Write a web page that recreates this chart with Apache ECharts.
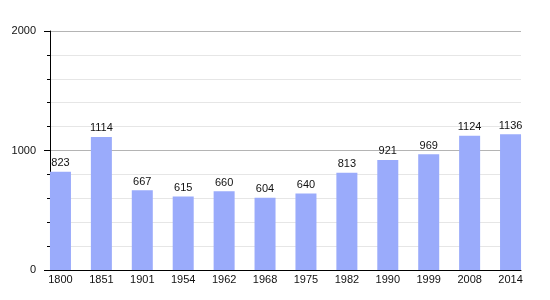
<!DOCTYPE html>
<html><head><meta charset="utf-8">
<script src="https://cdn.jsdelivr.net/npm/echarts@6/dist/echarts.min.js"></script>
<style>html,body{margin:0;padding:0;background:#fff}#c{width:550px;height:300px}</style>
</head><body><div id="c"></div>
<script>
const years = ['1800','1851','1901','1954','1962','1968','1975','1982','1990','1999','2008','2014'];
const population = [823,1114,667,615,660,604,640,813,921,969,1124,1136];
const yTicks = [0,1000,2000];

const chart = echarts.init(document.getElementById('c'));
const font = 'Liberation Sans, Arial, sans-serif';
chart.setOption({
  animation:false,
  grid:[
    {left:50,right:29,top:31,bottom:30},
    {left:40,right:19,top:31,bottom:30}
  ],
  xAxis:[
    {gridIndex:0,type:'value',min:0,max:1,
     axisLine:{show:true,lineStyle:{color:'#000',width:1}},
     axisTick:{show:false},axisLabel:{show:false},splitLine:{show:false}},
    {gridIndex:1,type:'category',data:years,
     axisLine:{show:false},axisTick:{show:false},
     axisLabel:{color:'#111',fontSize:11,fontFamily:font,margin:4}}
  ],
  yAxis:[
    {gridIndex:0,type:'value',min:yTicks[0],max:yTicks[yTicks.length-1],interval:1000,
     axisLine:{show:true,lineStyle:{color:'#000'}},
     axisTick:{show:true,length:6,lineStyle:{color:'#000'}},
     minorTick:{show:true,splitNumber:5,length:3,lineStyle:{color:'#000'}},
     axisLabel:{color:'#111',fontSize:11,fontFamily:font,margin:14,formatter:v=>String(v)},
     splitLine:{show:true,lineStyle:{color:'#b4b4b4'}},
     minorSplitLine:{show:true,lineStyle:{color:'#e6e6e6'}}},
    {gridIndex:1,type:'value',min:0,max:2000,show:false,splitLine:{show:false}}
  ],
  series:[{
    type:'bar',xAxisIndex:1,yAxisIndex:1,data:population,barWidth:21,
    itemStyle:{color:'#9aabfb'},
    label:{show:true,position:'top',color:'#111',fontSize:11,fontFamily:font,distance:3}
  }]
});
</script></body></html>
